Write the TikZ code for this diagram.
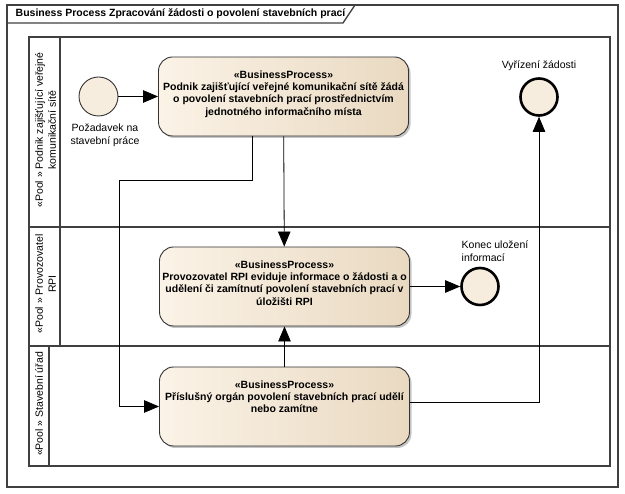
\documentclass[tikz,border=0pt]{standalone}
\usepackage{fontspec}
\setmainfont{Liberation Sans}
\usetikzlibrary{arrows.meta,shadows,positioning}

\definecolor{taskL}{RGB}{251,243,231}
\definecolor{taskR}{RGB}{233,217,193}
\definecolor{eventF}{RGB}{247,237,222}
\definecolor{poolC}{RGB}{64,64,64}

\newcommand{\bptext}[1]{\parbox[c][52pt][t]{250pt}{\centering #1}}

\tikzset{
  task/.style={rectangle, rounded corners=14pt, draw=black!80, line width=0.9pt,
    left color=taskL, right color=taskR, minimum width=249pt, minimum height=79pt,
    inner sep=0pt, font=\fontsize{10.5}{12.4}\selectfont\bfseries,
    drop shadow={shadow xshift=2pt, shadow yshift=-2pt, fill=black!45}},
  startev/.style={circle, draw=black!80, line width=0.9pt, fill=eventF, minimum size=39pt, inner sep=0pt},
  endev/.style={circle, draw=black, line width=2.6pt, fill=eventF, minimum size=37pt, inner sep=0pt},
  pool/.style={draw=poolC, line width=1.3pt},
  poollabel/.style={rotate=90, align=center, inner sep=0pt},
}

\begin{document}
\begin{tikzpicture}[x=1pt, y=-1pt, line width=0.8pt, font=\fontsize{10.5}{13}\selectfont,
    >={Triangle[length=15pt, width=12.5pt]}]
    \useasboundingbox (0,0) rectangle (625,494);

    % Frame
    \draw[pool] (7,5) rectangle (618,487);
    \draw[pool] (7,23) -- (343,23) -- (355,5);
    \node(10) at (12,14) [anchor=west, font=\fontsize{10.5}{12}\selectfont\bfseries] {Business Process Zpracování žádosti o povolení stavebních prací};

    % Pool I
    \draw[pool] (29,37) rectangle (610,227);
    \draw[pool] (60,37) -- (60,227);
    \node(100) at (45.5,130) [poollabel] {«Pool » Podnik zajišťující veřejné\\komunikační sítě};
    \node(101) at (98.5,96.5) [startev] {};
    \node(102) at (105,135.5) [align=center] {Požadavek na\\stavební práce};
    \node(111) at (283.5,96.5) [task] {\bptext{«BusinessProcess»\\Podnik zajišťující veřejné komunikační sítě žádá\\o povolení stavebních prací prostřednictvím\\jednotného informačního místa}};
    \node(121) at (539,97) [endev] {};
    \node(122) at (539,66) {Vyřízení žádosti};

    % Pool II
    \draw[pool] (29,227) rectangle (610,346);
    \draw[pool] (60,227) -- (60,346);
    \node(200) at (45.5,284) [poollabel] {«Pool » Provozovatel\\RPI};
    \node(211) at (284.5,286.5) [task] {\bptext{«BusinessProcess»\\Provozovatel RPI eviduje informace o žádosti a o\\udělení či zamítnutí povolení stavebních prací v\\úložišti RPI}};
    \node(221) at (480,286.5) [endev] {};
    \node(222) at (458,251) [anchor=west, align=left] {Konec uložení\\informací};

    % Pool III
    \draw[pool] (29,346) rectangle (610,466);
    \draw[pool] (49,346) -- (49,466);
    \node(300) at (39,404) [poollabel] {«Pool » Stavební úřad};
    \node(311) at (284.5,406.5) [task] {\bptext{«BusinessProcess»\\Příslušný orgán povolení stavebních prací udělí\\nebo zamítne}};

    % Flows
    \coordinate(112) at (119,180);
    \draw [->] (101) -- (111);
    \draw [->] (111) -- (211);
    \draw [->] ([xshift=-31pt]111.south) |- (112) |- (311);
    \draw [->] (311) -- (211);
    \draw [->] (211) -- (221);
    \draw [->] (311.east |- 0,402) -| (121);
\end{tikzpicture}
\end{document}
